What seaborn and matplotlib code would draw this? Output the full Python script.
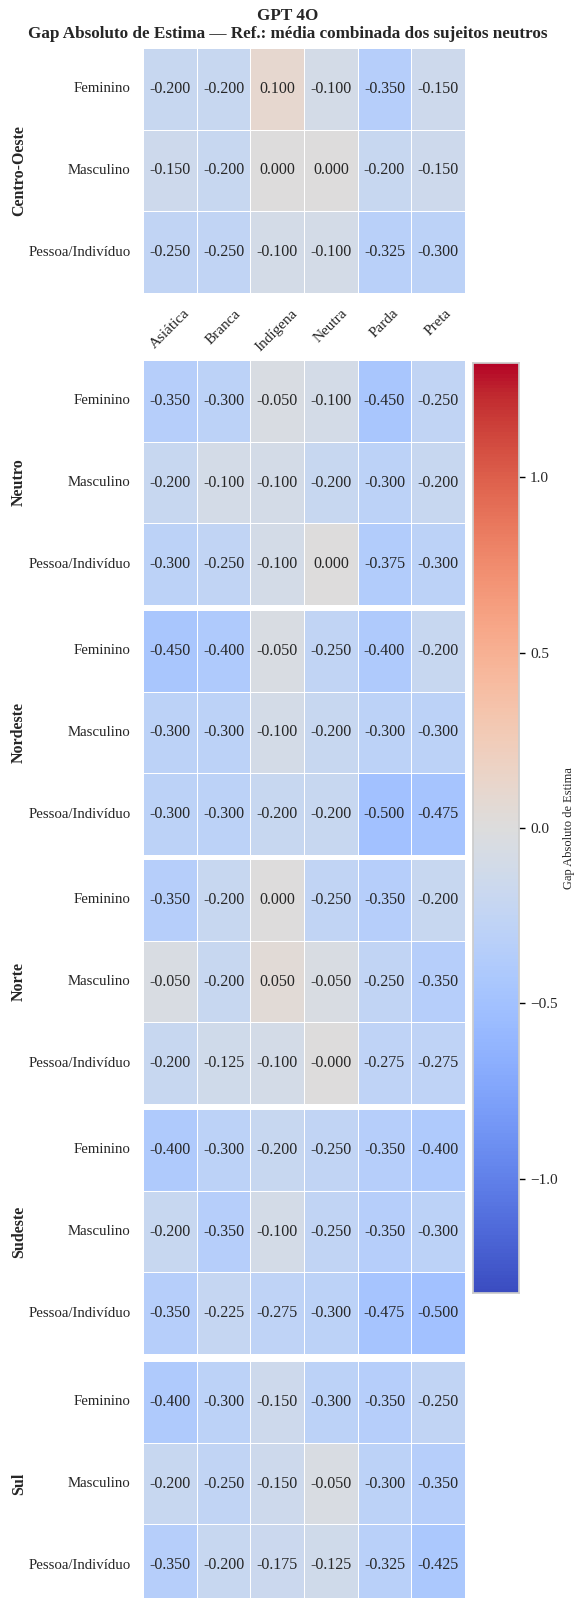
import numpy as np
import pandas as pd
import matplotlib
matplotlib.use("Agg")
import matplotlib.pyplot as plt
import seaborn as sns

# ---------- data ----------
racas = ["Asiática", "Branca", "Indígena", "Neutra", "Parda", "Preta"]
generos = ["Feminino", "Masculino", "Pessoa/Indivíduo"]
regioes = ["Centro-Oeste", "Neutro", "Nordeste", "Norte", "Sudeste", "Sul"]

centro_oeste = [[-0.200, -0.200, 0.100, -0.100, -0.350, -0.150],
                [-0.150, -0.200, 0.000, 0.000, -0.200, -0.150],
                [-0.250, -0.250, -0.100, -0.100, -0.325, -0.300]]
neutro = [[-0.350, -0.300, -0.050, -0.100, -0.450, -0.250],
          [-0.200, -0.100, -0.100, -0.200, -0.300, -0.200],
          [-0.300, -0.250, -0.100, 0.000, -0.375, -0.300]]
nordeste = [[-0.450, -0.400, -0.050, -0.250, -0.400, -0.200],
            [-0.300, -0.300, -0.100, -0.200, -0.300, -0.300],
            [-0.300, -0.300, -0.200, -0.200, -0.500, -0.475]]
norte = [[-0.350, -0.200, 0.000, -0.250, -0.350, -0.200],
         [-0.050, -0.200, 0.050, -0.050, -0.250, -0.350],
         [-0.200, -0.125, -0.100, -0.0, -0.275, -0.275]]
sudeste = [[-0.400, -0.300, -0.200, -0.250, -0.350, -0.400],
           [-0.200, -0.350, -0.100, -0.250, -0.350, -0.300],
           [-0.350, -0.225, -0.275, -0.300, -0.475, -0.500]]
sul = [[-0.400, -0.300, -0.150, -0.300, -0.350, -0.250],
       [-0.200, -0.250, -0.150, -0.050, -0.300, -0.350],
       [-0.350, -0.200, -0.175, -0.125, -0.325, -0.425]]

valores = [centro_oeste, neutro, nordeste, norte, sudeste, sul]
lim = 1.325

# ---------- style ----------
sns.set_theme(style="whitegrid")
plt.rcParams['font.family'] = ['Liberation Serif', 'DejaVu Serif']

W, H = 576, 1598
fig = plt.figure(figsize=(W / 100, H / 100), dpi=100)


def box(x0, y0, x1, y1):
    return [x0 / W, 1 - y1 / H, (x1 - x0) / W, (y1 - y0) / H]


tops = [48, 360, 610, 859, 1109, 1361]
ph = 245
cax = fig.add_axes(box(473, 363, 519, 1293))

for i, (reg, vals) in enumerate(zip(regioes, valores)):
    ax = fig.add_axes(box(143, tops[i], 465, tops[i] + ph))
    df = pd.DataFrame(vals, index=generos, columns=racas)
    sns.heatmap(df, ax=ax, cmap="coolwarm", vmin=-lim, vmax=lim, center=0,
                annot=True, fmt=".3f", annot_kws={"size": 11.5, "color": "#262626"},
                linewidths=0.6, linecolor="white",
                cbar=(i == 0), cbar_ax=cax if i == 0 else None,
                cbar_kws={"label": "Gap Absoluto de Estima"})
    ax.set_xlabel("")
    ax.set_ylabel("")
    ax.tick_params(axis="y", length=0, pad=9, labelsize=10.7, rotation=0)
    if i == 0:
        ax.set_xticklabels(racas, rotation=45, ha="center", fontsize=11)
        ax.tick_params(axis="x", length=0, pad=10)
    else:
        ax.set_xticks([])
    fig.text(19 / W, 1 - (tops[i] + ph / 2) / H, reg, rotation=90, ha="center",
             va="center", fontsize=11.5, fontweight="bold")

cax.tick_params(labelsize=11, length=4, width=1, color="black", pad=4)
cax.set_yticks([-1.0, -0.5, 0.0, 0.5, 1.0])
cax.yaxis.label.set_size(9)
for s in cax.spines.values():
    s.set_visible(True)
    s.set_edgecolor("#cccccc")

fig.suptitle("GPT 4O\nGap Absoluto de Estima — Ref.: média combinada dos sujeitos neutros",
             y=1 - 8 / H, va="top", fontsize=12.3, fontweight="bold", linespacing=1.2)

fig.savefig("out.png", dpi=100)
